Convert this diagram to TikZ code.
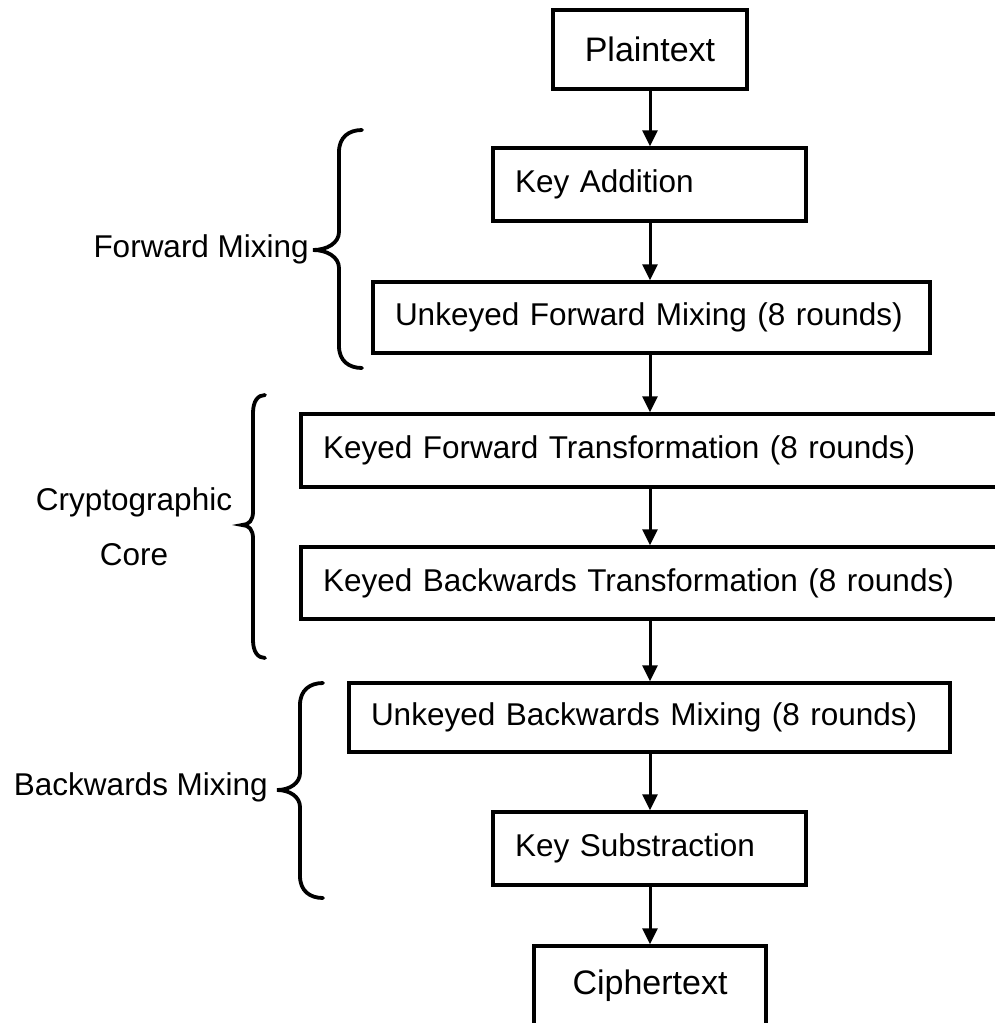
\documentclass[tikz,border=0pt]{standalone}
\usepackage{fontspec}
\setmainfont{Liberation Sans}
\usetikzlibrary{arrows.meta}
\newcommand\fsz[1]{\fontsize{#1}{#1}\selectfont}
\begin{document}
\begin{tikzpicture}[x=1pt,y=-1pt,
  stage/.style={draw, line width=3.5pt, inner xsep=22pt, inner ysep=0pt,
                align=left, font=\fsz{31.5}, anchor=center},
  endpoint/.style={draw, line width=3.5pt, inner sep=0pt, align=center,
                   font=\fsz{34}, anchor=center},
  flow/.style={line width=3pt, -{Triangle[length=16pt,width=15pt]}},
  curly/.style={line width=3.8pt, line cap=round},
  grouplabel/.style={font=\fsz{31.5}, inner sep=0pt}]
\clip (0,0) rectangle (995,1023);

% vertical line the arrows run along
\coordinate (spine) at (650,0);

% stages
\node[endpoint, minimum width=194pt, minimum height=79pt] (pt) at (650,49.5) {Plaintext};
\node[stage, minimum width=313pt, text width=269pt, minimum height=73pt] (ka) at (649.5,184.5) {Key Addition};
\node[stage, minimum width=557pt, text width=513pt, minimum height=71pt] (ufm) at (651.5,317.5) {Unkeyed Forward Mixing (8 rounds)};
\node[stage, minimum width=709pt, text width=665pt, minimum height=73pt] (kft) at (655.5,450.5) {Keyed Forward Transformation (8 rounds)};
\node[stage, minimum width=709pt, text width=665pt, minimum height=72pt] (kbt) at (655.5,583) {Keyed Backwards Transformation (8 rounds)};
\node[stage, minimum width=601pt, text width=557pt, minimum height=69pt] (ubm) at (649.5,717.5) {Unkeyed Backwards Mixing (8 rounds)};
\node[stage, minimum width=313pt, text width=269pt, minimum height=73pt] (ks) at (649.5,848.5) {Key Substraction};
\node[endpoint, minimum width=232pt, minimum height=80pt] (ct) at (650,986) {Ciphertext};

% arrows between stages
\draw[flow] (pt.south -| spine) -- (ka.north -| spine);
\draw[flow] (ka.south -| spine) -- (ufm.north -| spine);
\draw[flow] (ufm.south -| spine) -- (kft.north -| spine);
\draw[flow] (kft.south -| spine) -- (kbt.north -| spine);
\draw[flow] (kbt.south -| spine) -- (ubm.north -| spine);
\draw[flow] (ubm.south -| spine) -- (ks.north -| spine);
\draw[flow] (ks.south -| spine) -- (ct.north -| spine);

% curly braces grouping the stages
\draw[curly] (362,130) .. controls (349,130) and (339,137) .. (339,152) -- (339,232)
  .. controls (339,243) and (327,250) .. (313,250)
  .. controls (327,250) and (339,257) .. (339,268) -- (339,346)
  .. controls (339,361) and (349,368) .. (362,368);
\draw[curly] (265,395) .. controls (258,395) and (253,401) .. (253,413) -- (253,512)
  .. controls (253,520) and (249,525) .. (242,525)
  .. controls (249,525) and (253,530) .. (253,538) -- (253,640)
  .. controls (253,652) and (258,658) .. (265,658);
\draw[curly] (323,683) .. controls (310,683) and (300,690) .. (300,705) -- (300,773)
  .. controls (300,783) and (290,790) .. (277,790)
  .. controls (290,790) and (300,797) .. (300,807) -- (300,876)
  .. controls (300,891) and (310,898) .. (323,898);

% group names
\node[grouplabel, anchor=base east] (fwd) at (309,257) {Forward Mixing};
\node[grouplabel, anchor=base] (core1) at (134,510) {Cryptographic};
\node[grouplabel, anchor=base] (core2) at (134,565) {Core};
\node[grouplabel, anchor=base east] (bwd) at (268,795) {Backwards Mixing};
\end{tikzpicture}
\end{document}
